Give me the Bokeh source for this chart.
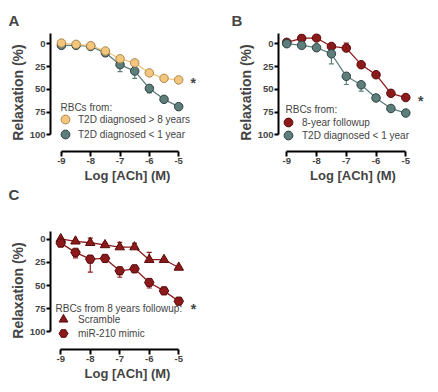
from bokeh.plotting import figure
from bokeh.models import (Range1d, FixedTicker, Whisker, ColumnDataSource, Legend,
                          LegendItem, Label, TeeHead, Title)
from bokeh.layouts import column, row
from bokeh.embed import file_html
from bokeh.resources import INLINE

# ---------------- data ----------------
log_ach = [-9, -8.5, -8, -7.5, -7, -6.5, -6, -5.5, -5]
x_ticks = [-9, -8, -7, -6, -5]
x_tick_labels = ["-9", "-8", "-7", "-6", "-5"]
y_ticks = [0, 25, 50, 75, 100]
y_tick_labels = ["0", "25", "50", "75", "100"]

# Panel A
a_gt8 = [-0.7, 0.7, 2.2, 8, 16.5, 21, 32, 38, 39.7]
a_gt8_err = [1, 1, 1, 1.5, 2, 2, 2, 2, 2]
a_lt1 = [1.8, 1.8, 3, 10, 23, 30, 49, 61, 69]
a_lt1_err = [1, 1, 2, 4, 7.5, 8, 5, 3, 2]

# Panel B
b_fu8 = [-1.5, -5.9, -6.3, 3, 4.8, 23, 34, 54.4, 59]
b_fu8_err = [1, 1, 1, 2, 5.5, 2, 2, 2, 3]
b_lt1 = [0, 1.8, 4.4, 11, 35.7, 45, 59.5, 71, 76]
b_lt1_err = [1, 1, 2, 11, 9, 7, 2, 2, 2]

# Panel C
c_scr = [-0.5, 2, 3.6, 6, 8.3, 8.3, 22, 22, 30.4]
c_scr_err = [1, 1, 5, 2, 5, 4, 8, 1, 1]
c_mir = [4, 14, 21.4, 20.6, 34, 31.9, 46.7, 55.8, 67]
c_mir_err = [1, 6, 14, 2, 7, 1, 6, 2, 1]

# ---------------- styles ----------------
YEL_F, YEL_L = "#F4C67D", "#A8884E"
GRY_F, GRY_L = "#5E7E7B", "#2C4241"
RED_F, RED_L = "#8C1A1B", "#560A0B"
FONT = "Liberation Sans"


def panel_letter(text, dx, standoff):
    return Title(text=text, align="left", vertical_align="top", offset=dx,
                 standoff=standoff, text_font=FONT, text_font_style="bold",
                 text_font_size="15px")


def make_panel(width, height, borders, xr, yr, ybounds):
    left, right, top, bottom = borders
    p = figure(width=width, height=height, output_backend="svg", toolbar_location=None,
               x_range=Range1d(*xr), y_range=Range1d(*yr),
               min_border_left=left, min_border_right=right,
               min_border_top=top, min_border_bottom=bottom)
    p.outline_line_color = None
    p.grid.visible = False
    for ax in (p.xaxis[0], p.yaxis[0]):
        ax.axis_line_width = 2
        ax.major_tick_line_width = 2
        ax.major_tick_in = 0
        ax.minor_tick_out = 0
        ax.minor_tick_in = 0
        ax.major_label_text_font = FONT
        ax.major_label_text_font_style = "bold"
        ax.major_label_text_font_size = "9.5px"
        ax.axis_label_text_font = FONT
        ax.axis_label_text_font_style = "bold"
    xa, ya = p.xaxis[0], p.yaxis[0]
    xa.ticker = FixedTicker(ticks=x_ticks)
    xa.major_label_overrides = dict(zip(x_ticks, x_tick_labels))
    xa.bounds = (x_ticks[0], x_ticks[-1])
    xa.major_tick_out = 5
    xa.major_label_standoff = 1
    xa.axis_label = "Log [ACh] (M)"
    xa.axis_label_text_font_size = "13px"
    xa.axis_label_standoff = 1
    ya.ticker = FixedTicker(ticks=y_ticks)
    ya.major_label_overrides = dict(zip(y_ticks, y_tick_labels))
    ya.bounds = ybounds
    ya.major_tick_out = 4
    ya.major_label_standoff = 1
    ya.axis_label = "Relaxation (%)"
    ya.axis_label_text_font_size = "14px"
    ya.axis_label_standoff = 1
    return p


def add_series(p, y, err, direction, fill, line, marker, size):
    end = [v + direction * e for v, e in zip(y, err)]
    src = ColumnDataSource(dict(x=log_ach, y=y,
                                upper=[max(a, b) for a, b in zip(y, end)],
                                lower=[min(a, b) for a, b in zip(y, end)]))
    head = TeeHead(size=5, line_color=fill, line_width=1.2)
    w = Whisker(source=src, base="x", upper="upper", lower="lower", dimension="height",
                line_color=fill, line_width=1.2,
                upper_head=head if direction > 0 else None,
                lower_head=head if direction < 0 else None)
    p.add_layout(w)
    p.line("x", "y", source=src, line_color=fill, line_width=1.3)
    r = p.scatter("x", "y", source=src, marker=marker, size=size, fill_color=fill,
                  line_color=line, line_width=1)
    return r


def add_legend(p, xr, yr, title, title_pos, items, vx, vys, standoff):
    # legend heading, positioned relative to the frame's bottom-left corner
    p.add_layout(Label(x=xr[0], y=yr[0], x_offset=title_pos[0], y_offset=title_pos[1],
                       text=title, text_font=FONT, text_font_size="10px",
                       text_baseline="middle", text_align="left"))
    for (text, r), vy in zip(items, vys):
        lg = Legend(items=[LegendItem(label=text, renderers=[r])], location=(vx, vy),
                    border_line_color=None, background_fill_alpha=0, padding=0, margin=0,
                    spacing=0, label_height=22, glyph_height=22, glyph_width=22,
                    label_standoff=standoff,
                    label_text_font=FONT, label_text_font_size="10px")
        p.add_layout(lg, "center")


def add_star(p, star_y):
    p.add_layout(Label(x=-4.5, y=star_y, text="*", text_font=FONT, text_font_style="bold",
                       text_font_size="14px", text_baseline="middle", text_align="center",
                       y_offset=-3))


# ---------------- Panel A ----------------
xrA, yrA = (-9.373, -4.119), (118.2, -11.2)
pA = make_panel(213, 196, (45, 14, 25, 52), xrA, yrA, (-11.2, 100))
pA.add_layout(panel_letter("A", -42, 6), "above")
rA2 = add_series(pA, a_lt1, a_lt1_err, +1, GRY_F, GRY_L, "circle", 8.5)
rA1 = add_series(pA, a_gt8, a_gt8_err, -1, YEL_F, YEL_L, "circle", 8.5)
add_legend(pA, xrA, yrA, "RBCs from:", (10, 44),
           [("T2D diagnosed > 8 years", rA1), ("T2D diagnosed < 1 year", rA2)],
           4, (21, 6), 2)
add_star(pA, a_gt8[-1])
# letter of the panel below, placed under panel A's axis
pA.add_layout(panel_letter("C", -42, 0), "below")

# ---------------- Panel B ----------------
xrB, yrB = (-9.279, -4.27), (118.2, -11.2)
pB = make_panel(211, 196, (60, 2, 25, 52), xrB, yrB, (-11.2, 100))
pB.add_layout(panel_letter("B", -47, 6), "above")
rB1 = add_series(pB, b_fu8, b_fu8_err, -1, RED_F, RED_L, "circle", 8.5)
rB2 = add_series(pB, b_lt1, b_lt1_err, +1, GRY_F, GRY_L, "circle", 8.5)
add_legend(pB, xrB, yrB, "RBCs from:", (7, 42),
           [("8-year followup", rB1), ("T2D diagnosed < 1 year", rB2)],
           -1, (18, 5), 3)
add_star(pB, b_fu8[-1])

# ---------------- Panel C ----------------
xrC, yrC = (-9.347, -4.128), (119.4, -8.6)
pC = make_panel(213, 179, (45, 14, 27, 33), xrC, yrC, (-8.6, 100))
rC1 = add_series(pC, c_scr, c_scr_err, -1, RED_F, RED_L, "triangle", 9.5)
rC2 = add_series(pC, c_mir, c_mir_err, +1, RED_F, RED_L, "hex", 9.5)
add_legend(pC, xrC, yrC, "RBCs from 8 years followup:", (5, 41),
           [("Scramble", rC1), ("miR-210 mimic", rC2)],
           2, (19, 5), 4)
add_star(pC, c_mir[-1] + 5)

layout = column(row(pA, pB), pC, margin=(8, 0, 0, 5))
open("out.html", "w").write(file_html(layout, INLINE))
